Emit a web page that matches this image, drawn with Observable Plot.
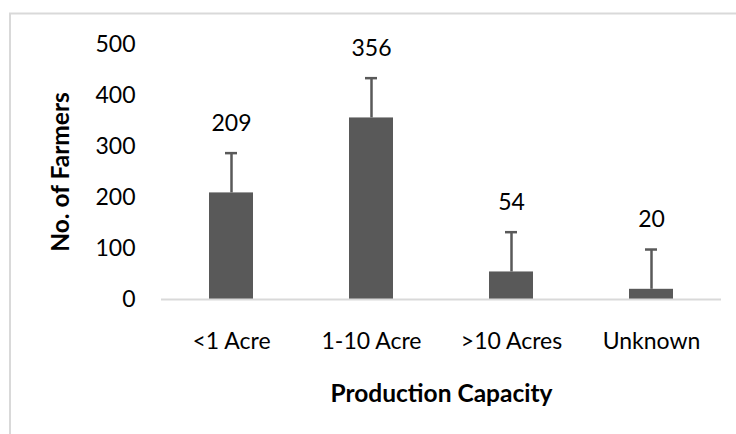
<!DOCTYPE html>
<html>
<head>
<meta charset="utf-8">
<script src="https://cdn.jsdelivr.net/npm/d3@7"></script>
<script src="https://cdn.jsdelivr.net/npm/@observablehq/plot@0.6"></script>
<style>
  html, body { margin: 0; padding: 0; background: #fff; }
  #chart svg { display: block; }
</style>
</head>
<body>
<div id="chart"></div>
<script>
const categories = ["<1 Acre", "1-10 Acre", ">10 Acres", "Unknown"];
const farmers = [209, 356, 54, 20];
const errors = [78, 78, 78, 78];
const yTicks = [0, 100, 200, 300, 400, 500];
const yTitle = "No. of Farmers";
const xTitle = "Production Capacity";

const data = categories.map((c, i) => ({ cat: c, value: farmers[i], err: errors[i], top: farmers[i] + errors[i] }));

const font = "Lato, 'Open Sans', sans-serif";
const barColor = "#595959";

const chart = Plot.plot({
  width: 736,
  height: 434,
  marginLeft: 161,
  marginRight: 15,
  marginTop: 44,
  marginBottom: 135,
  style: { fontFamily: font, fontSize: "23px", color: "#000", background: "#fff" },
  x: { domain: categories, padding: 0, label: null },
  y: { domain: [0, 500], label: null },
  marks: [
    Plot.barY(data, { x: "cat", y: "value", fill: barColor, insetLeft: 48, insetRight: 48 }),
    Plot.ruleY([0], { stroke: "#d9d9d9", strokeWidth: 2 }),
    Plot.ruleX(data, { x: "cat", y1: "value", y2: "top", stroke: barColor, strokeWidth: 2.5 }),
    Plot.tickY(data, { x: "cat", y: "top", stroke: barColor, strokeWidth: 2.5, insetLeft: 64, insetRight: 64 }),
    Plot.text(data, { x: "cat", y: "top", text: d => String(d.value), dy: -30, fill: "#000", fontSize: 23 }),
    Plot.axisY({ ticks: yTicks, tickSize: 0, tickPadding: 26, fontSize: 23, label: null, tickFormat: d => String(d) }),
    Plot.axisX({ tickSize: 0, tickPadding: 33, fontSize: 23, label: null }),
    Plot.text([yTitle], { frameAnchor: "left", textAnchor: "middle", text: d => d, rotate: -90, dx: -100, fontWeight: "bold", fontSize: 24.5, fill: "#000" }),
    Plot.text([xTitle], { frameAnchor: "bottom", textAnchor: "middle", text: d => d, dy: 102, fontWeight: "bold", fontSize: 24.5, fill: "#000" })
  ]
});

d3.select(chart).insert("rect", ":first-child")
  .attr("x", 10).attr("y", 13.5).attr("width", 800).attr("height", 500)
  .attr("fill", "none").attr("stroke", "#d9d9d9").attr("stroke-width", 2);

document.getElementById("chart").appendChild(chart);
</script>
</body>
</html>
